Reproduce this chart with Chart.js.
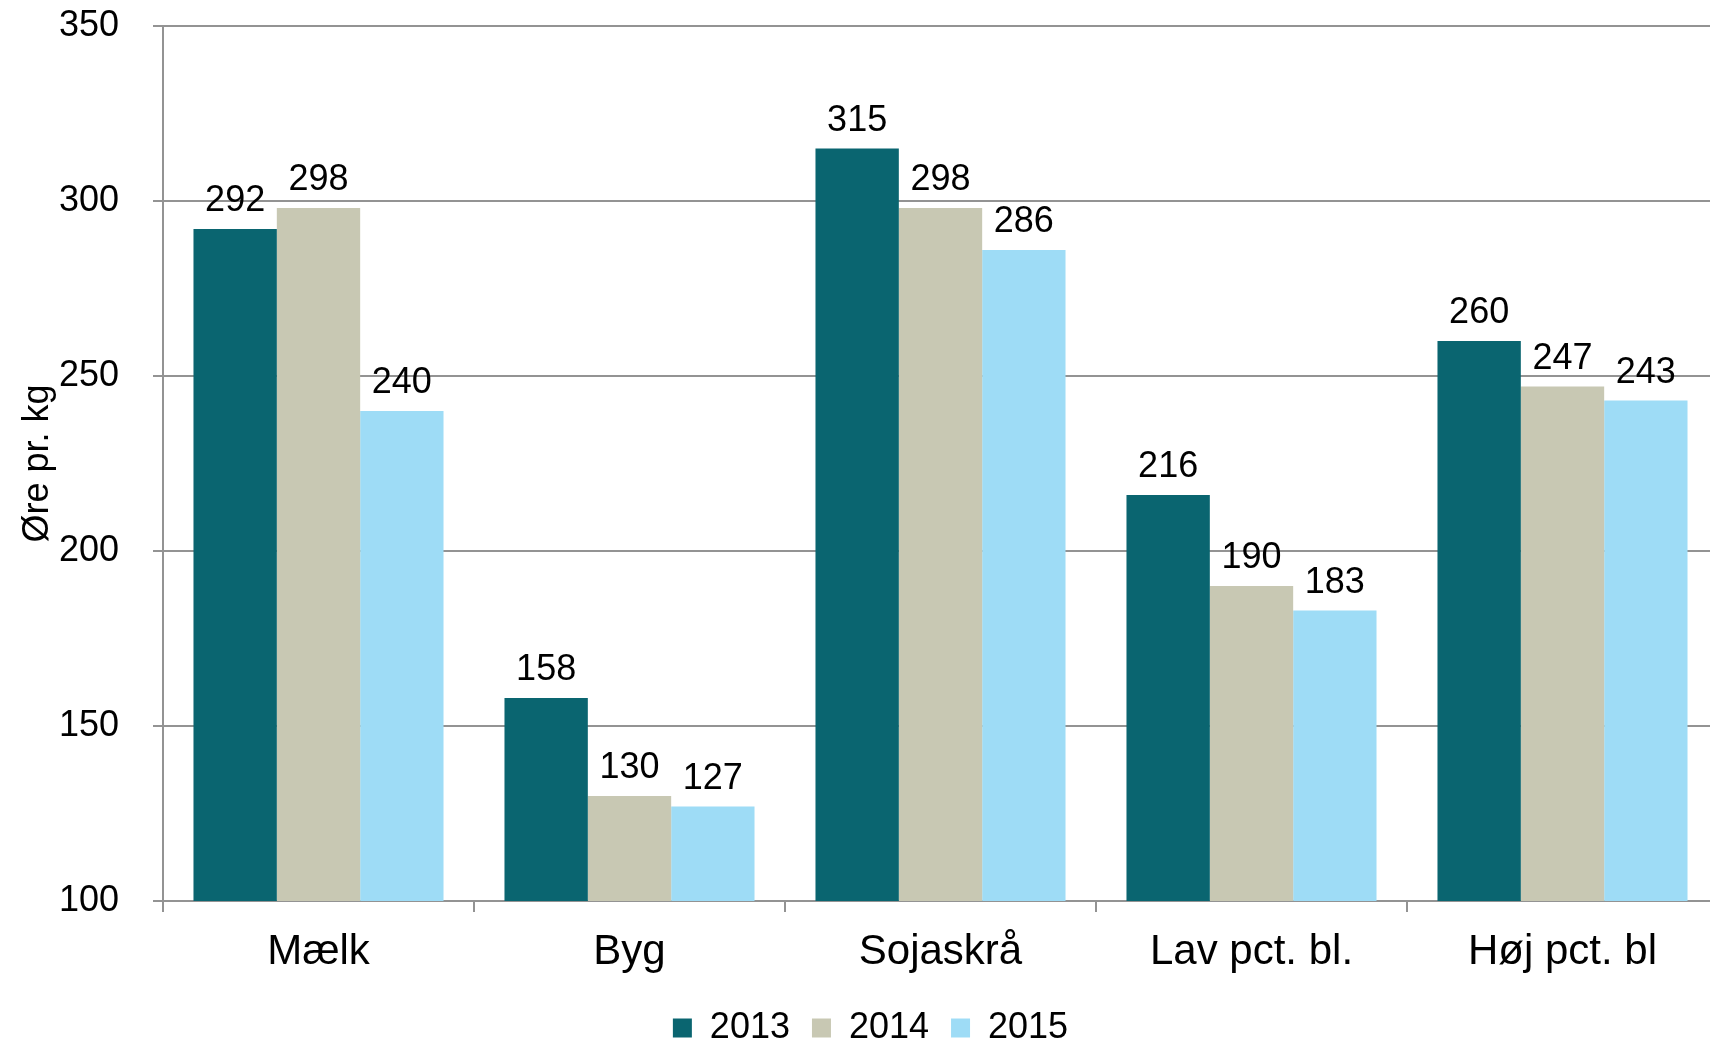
<!DOCTYPE html>
<html>
<head>
<meta charset="utf-8">
<script src="https://cdn.jsdelivr.net/npm/chart.js@4.4.1/dist/chart.umd.min.js"></script>
<style>
  html, body { margin: 0; padding: 0; background: #ffffff; overflow: hidden; }
  #wrap { position: relative; width: 1718px; height: 1056px; }
</style>
</head>
<body>
<div id="wrap"><canvas id="c" width="1718" height="1056"></canvas></div>
<script>
const categories = ['Mælk', 'Byg', 'Sojaskrå', 'Lav pct. bl.', 'Høj pct. bl'];
const seriesNames = ['2013', '2014', '2015'];
const values2013 = [292, 158, 315, 216, 260];
const values2014 = [298, 130, 298, 190, 247];
const values2015 = [240, 127, 286, 183, 243];
const yTicks = [100, 150, 200, 250, 300, 350];
const yTitle = 'Øre pr. kg';

const colors = ['#0A6570', '#C8C8B3', '#9EDCF6'];
const gridColor = '#939393';
const FONT = '"Liberation Sans", Arial, sans-serif';

const valueLabels = {
  id: 'valueLabels',
  afterDatasetsDraw(chart) {
    const ctx = chart.ctx;
    ctx.save();
    ctx.font = '36px ' + FONT;
    ctx.fillStyle = '#000000';
    ctx.textAlign = 'center';
    ctx.textBaseline = 'alphabetic';
    chart.data.datasets.forEach((ds, i) => {
      const meta = chart.getDatasetMeta(i);
      meta.data.forEach((bar, j) => {
        ctx.fillText(String(ds.data[j]), bar.x, bar.y - 18);
      });
    });
    ctx.restore();
  }
};

new Chart(document.getElementById('c'), {
  type: 'bar',
  data: {
    labels: categories,
    datasets: [
      { label: seriesNames[0], data: values2013, backgroundColor: colors[0] },
      { label: seriesNames[1], data: values2014, backgroundColor: colors[1] },
      { label: seriesNames[2], data: values2015, backgroundColor: colors[2] }
    ]
  },
  options: {
    responsive: false,
    animation: false,
    devicePixelRatio: 1,
    layout: { padding: { left: 23, top: 26, right: 0, bottom: 0 } },
    datasets: { bar: { categoryPercentage: 0.804, barPercentage: 1.0 } },
    plugins: {
      legend: {
        position: 'bottom',
        labels: {
          font: { family: FONT, size: 36 },
          color: '#000000',
          boxWidth: 19,
          boxHeight: 19,
          padding: 22
        }
      },
      tooltip: { enabled: false }
    },
    scales: {
      x: {
        afterFit(scale) { scale.height = 87; scale.paddingLeft = 0; scale.paddingRight = 0; },
        grid: { display: true, drawOnChartArea: false, drawTicks: true, tickLength: 11, color: gridColor, lineWidth: 2 },
        border: { display: true, color: gridColor, width: 2 },
        ticks: { font: { family: FONT, size: 42 }, color: '#000000', padding: 15 }
      },
      y: {
        min: 100,
        max: 350,
        afterBuildTicks(scale) { scale.ticks = yTicks.map(v => ({ value: v })); },
        afterFit(scale) { scale.width = 140; scale.paddingTop = 0; scale.paddingBottom = 0; },
        grid: { color: gridColor, lineWidth: 2, tickLength: 10, drawTicks: true },
        border: { display: true, color: gridColor, width: 2 },
        ticks: { font: { family: FONT, size: 36 }, color: '#000000', padding: 34 },
        title: { display: true, text: yTitle, font: { family: FONT, size: 36 }, color: '#000000', padding: { top: -7, bottom: 0 } }
      }
    }
  },
  plugins: [valueLabels]
});
</script>
</body>
</html>
